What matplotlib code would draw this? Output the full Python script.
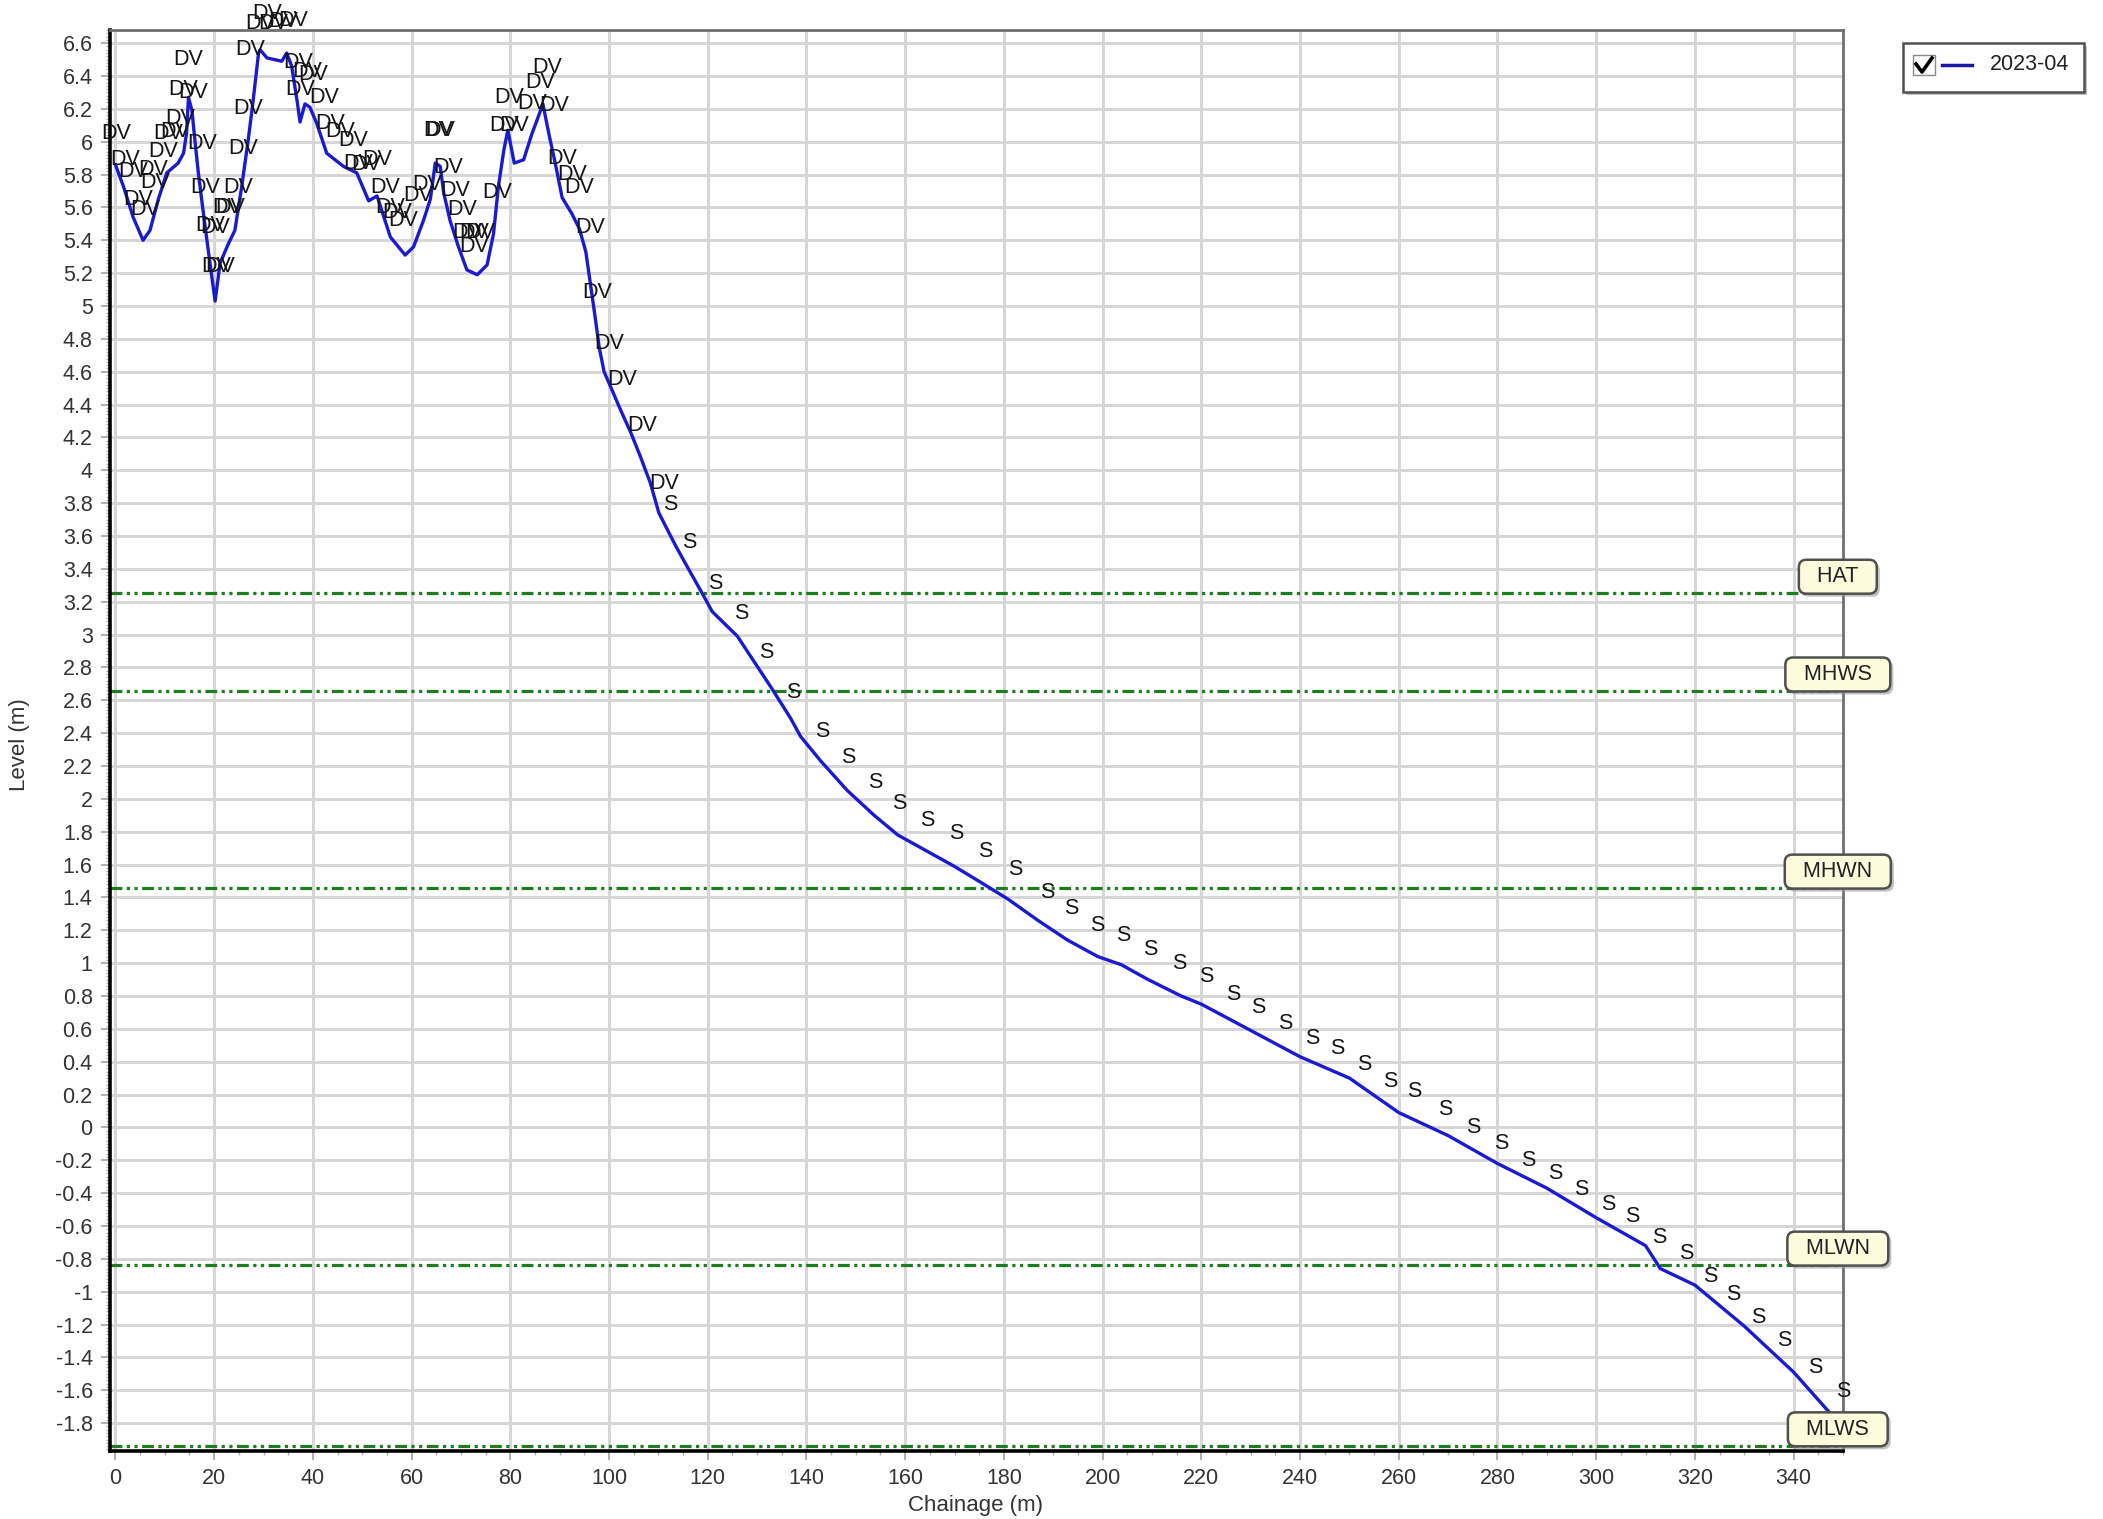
import matplotlib
matplotlib.use("Agg")
import matplotlib.pyplot as plt
from matplotlib.ticker import MultipleLocator, FuncFormatter
from matplotlib.patches import Rectangle
from matplotlib.lines import Line2D
import matplotlib.transforms as mtransforms

plt.rcParams['font.family'] = ['Liberation Sans', 'DejaVu Sans']
plt.rcParams['axes.unicode_minus'] = False

# profile 2023-04
chainage = [0.0, 1.6, 3.6, 5.6, 7.0, 8.7, 10.4, 12.7, 13.8, 14.4, 14.8, 15.5, 16.1, 16.8,
            17.8, 18.8, 20.2, 21.2, 22.9, 24.2, 25.6, 26.9, 27.9, 29.0, 29.3, 30.7, 33.7,
            34.7, 35.7, 36.8, 37.4, 38.4, 39.4, 40.8, 42.8, 46.2, 48.9, 51.3, 53.0, 55.7,
            58.7, 60.4, 62.4, 63.8, 64.8, 65.8, 66.5, 67.8, 69.5, 71.2, 73.3, 75.3, 76.6,
            77.6, 78.7, 79.5, 80.8, 82.7, 84.4, 85.4, 86.6, 87.8, 89.1, 90.5, 92.5, 94.0,
            95.3, 96.3, 97.2, 98.0, 99.0, 100.3, 102.3, 104.4, 106.4, 108.4, 110.1, 113.5,
            115.9, 118.9, 120.9, 126.0, 132.8, 136.8, 138.8, 142.9, 148.3, 153.7, 158.5,
            163.9, 169.9, 175.4, 180.8, 186.9, 192.9, 199.0, 203.8, 209.2, 215.9, 220.0,
            230.0, 240.0, 250.0, 260.0, 270.0, 280.0, 290.0, 300.0, 310.0, 313.0, 320.0,
            330.0, 340.0, 347.1]
level = [5.86, 5.73, 5.54, 5.40, 5.46, 5.65, 5.81, 5.87, 5.93, 6.05, 6.27, 6.19, 6.01, 5.81,
         5.57, 5.34, 5.03, 5.26, 5.38, 5.46, 5.73, 6.01, 6.25, 6.54, 6.56, 6.51, 6.49,
         6.54, 6.46, 6.25, 6.12, 6.23, 6.21, 6.11, 5.93, 5.85, 5.81, 5.64, 5.67, 5.42,
         5.31, 5.36, 5.52, 5.65, 5.87, 5.85, 5.69, 5.52, 5.36, 5.22, 5.19, 5.25, 5.44,
         5.73, 5.95, 6.07, 5.87, 5.89, 6.05, 6.13, 6.23, 6.05, 5.87, 5.66, 5.56, 5.47,
         5.33, 5.12, 4.93, 4.75, 4.60, 4.51, 4.37, 4.23, 4.08, 3.92, 3.74, 3.54,
         3.41, 3.25, 3.14, 2.99, 2.68, 2.49, 2.38, 2.23, 2.05, 1.90, 1.78,
         1.69, 1.59, 1.49, 1.39, 1.26, 1.14, 1.04, 0.99, 0.90, 0.80, 0.75,
         0.59, 0.43, 0.30, 0.09, -0.05, -0.22, -0.37, -0.55, -0.72, -0.86, -0.96,
         -1.21, -1.49, -1.73]

# feature codes
dv_x = [0.2, 1.9, 3.6, 4.6, 6.0, 7.7, 8.0, 9.7, 10.7, 12.1, 13.1, 14.8, 13.8, 15.8, 17.5,
        18.2, 19.2, 20.2, 20.5, 21.2, 22.6, 23.3, 24.9, 25.9, 26.9, 27.3, 29.3, 30.7, 32.0,
        34.0, 36.0, 37.1, 37.4, 38.8, 40.1, 42.2, 43.5, 45.5, 48.2, 49.2, 50.9, 53.0, 54.7,
        55.7, 57.0, 58.4, 61.4, 63.1, 65.3, 65.7, 67.5, 68.9, 70.2, 71.2, 72.6, 74.0, 72.6,
        77.3, 78.7, 79.7, 80.7, 84.4, 86.1, 87.5, 88.8, 90.5, 92.5, 93.9, 96.2, 97.6, 100.0,
        102.7, 106.7, 111.1]
dv_y = [6.05, 5.89, 5.82, 5.65, 5.59, 5.83, 5.75, 5.94, 6.05, 6.06, 6.14, 6.50, 6.32, 6.30,
        5.99, 5.72, 5.49, 5.48, 5.24, 5.24, 5.60, 5.60, 5.72, 5.96, 6.20, 6.56, 6.72, 6.78,
        6.72, 6.73, 6.74, 6.48, 6.32, 6.43, 6.41, 6.27, 6.11, 6.06, 6.01, 5.87, 5.86, 5.89,
        5.72, 5.60, 5.57, 5.52, 5.67, 5.74, 6.07, 6.07, 5.84, 5.70, 5.59, 5.45, 5.45, 5.45,
        5.36, 5.69, 6.10, 6.27, 6.10, 6.23, 6.36, 6.45, 6.22, 5.90, 5.80, 5.72, 5.48, 5.08,
        4.77, 4.55, 4.27, 3.92]
s_x = [112.5, 116.3, 121.5, 126.7, 131.8, 137.3, 143.3, 148.4, 153.9, 158.8, 164.4, 170.3,
       176.2, 182.3, 188.7, 193.6, 199.0, 204.2, 209.7, 215.6, 221.0, 226.4, 231.5, 237.0,
       242.4, 247.6, 253.1, 258.2, 263.1, 269.4, 275.1, 280.8, 286.3, 291.7, 296.9, 302.4,
       307.3, 312.7, 318.2, 323.1, 327.7, 332.9, 338.1, 344.3, 350.0]
s_y = [3.79, 3.56, 3.31, 3.13, 2.89, 2.65, 2.41, 2.25, 2.10, 1.97, 1.87, 1.79, 1.68, 1.57,
       1.43, 1.33, 1.23, 1.17, 1.08, 1.00, 0.92, 0.81, 0.73, 0.63, 0.54, 0.48, 0.38, 0.28,
       0.22, 0.11, 0.00, -0.10, -0.20, -0.28, -0.38, -0.47, -0.54, -0.67, -0.77, -0.91,
       -1.02, -1.16, -1.30, -1.46, -1.61]

# tide levels
tide_names = ['HAT', 'MHWS', 'MHWN', 'MLWN', 'MLWS']
tide_levels = [3.25, 2.655, 1.455, -0.84, -1.94]

W, H = 2103, 1519


def fx(px):
    return px / W


def fy(py):
    return 1 - py / H


fig = plt.figure(figsize=(W / 100, H / 100), dpi=100)
ax = fig.add_axes([fx(110), fy(1451), fx(1843) - fx(110), fy(30) - fy(1451)])

ax.set_xlim(-1.1, 350)
ax.set_ylim(-1.97, 6.68)

ax.xaxis.set_major_locator(MultipleLocator(20))
ax.xaxis.set_minor_locator(MultipleLocator(5))
ax.yaxis.set_major_locator(MultipleLocator(0.2))
ax.yaxis.set_minor_locator(MultipleLocator(0.02))
ax.yaxis.set_major_formatter(FuncFormatter(lambda v, p: f'{round(v, 1) + 0:g}'))
ax.xaxis.set_major_formatter(FuncFormatter(lambda v, p: f'{v:g}'))

ax.grid(True, which='major', color='#d6d6d6', lw=2.1, zorder=0)
ax.set_axisbelow(True)

ax.tick_params(which='major', length=6.5, width=1.1, color='#9a9a9a', labelsize=15.5,
               labelcolor='#333333', pad=6)
ax.tick_params(which='minor', length=3, width=1.0, color='#b0b0b0')

for side in ['left', 'bottom']:
    ax.spines[side].set_color('black')
    ax.spines[side].set_linewidth(2.6)
for side in ['top', 'right']:
    ax.spines[side].set_color('#707070')
    ax.spines[side].set_linewidth(2.0)

# tide lines
for lv in tide_levels:
    ax.axhline(lv, color='#1e7d1e', lw=2.3, ls=(0, (3.7, 1.4, 1, 1.4, 1, 1.4)), zorder=2)

# profile
ax.plot(chainage, level, color='#1a1ad0', lw=2.4, zorder=3)

for x, y in zip(dv_x, dv_y):
    ax.text(x, y, 'DV', ha='center', va='center', fontsize=15.5, color='#151515',
            clip_on=False, zorder=4)
for x, y in zip(s_x, s_y):
    ax.text(x, y, 'S', ha='center', va='center', fontsize=15.5, color='#151515',
            clip_on=False, zorder=4)

# tide labels
trans = mtransforms.blended_transform_factory(ax.transAxes, ax.transData)
for name, lv in zip(tide_names, tide_levels):
    ax.annotate(f'  {name}  ', xy=(0.997, lv), xycoords=trans, xytext=(2.2, 2.3),
                textcoords='offset points', ha='center', va='bottom', fontsize=15.5,
                color='none', annotation_clip=False, zorder=5,
                bbox=dict(boxstyle='round,pad=0.3,rounding_size=0.35', fc='#9a9a9a',
                          ec='none', alpha=0.6))
    ax.annotate(f'  {name}  ', xy=(0.997, lv), xycoords=trans, xytext=(0, 4.5),
                textcoords='offset points', ha='center', va='bottom', fontsize=15.5,
                color='#222222', annotation_clip=False, zorder=6,
                bbox=dict(boxstyle='round,pad=0.3,rounding_size=0.35', fc='#fcfcdc',
                          ec='#505050', lw=1.8))

# axis titles
fig.text(fx(20), fy(745), 'Level (m)', rotation=90, ha='center', va='center',
         fontsize=16, color='#333333')
fig.text(fx(976), fy(1506), 'Chainage (m)', ha='center', va='center',
         fontsize=16, color='#333333')

# legend box
fig.add_artist(Rectangle((fx(1906), fy(95)), fx(181), fy(43) - fy(92),
                         transform=fig.transFigure, fc='#9a9a9a', ec='none', alpha=0.6))
fig.add_artist(Rectangle((fx(1903), fy(92)), fx(181), fy(43) - fy(92),
                         transform=fig.transFigure, fc='white', ec='#505050', lw=1.8))
fig.add_artist(Rectangle((fx(1913), fy(75)), fx(22), fy(55) - fy(75),
                         transform=fig.transFigure, fc='white', ec='#8a8a8a', lw=1.0))
fig.add_artist(Line2D([fx(1916), fx(1922), fx(1932)], [fy(64), fy(72), fy(58)],
                      transform=fig.transFigure, color='black', lw=2.6))
fig.add_artist(Line2D([fx(1942), fx(1972)], [fy(65), fy(65)],
                      transform=fig.transFigure, color='#1a1aa0', lw=2.5))
fig.text(fx(1990), fy(65), '2023-04', ha='left', va='center', fontsize=15.5, color='#222222')

fig.savefig('out.png', dpi=100, facecolor='white')
